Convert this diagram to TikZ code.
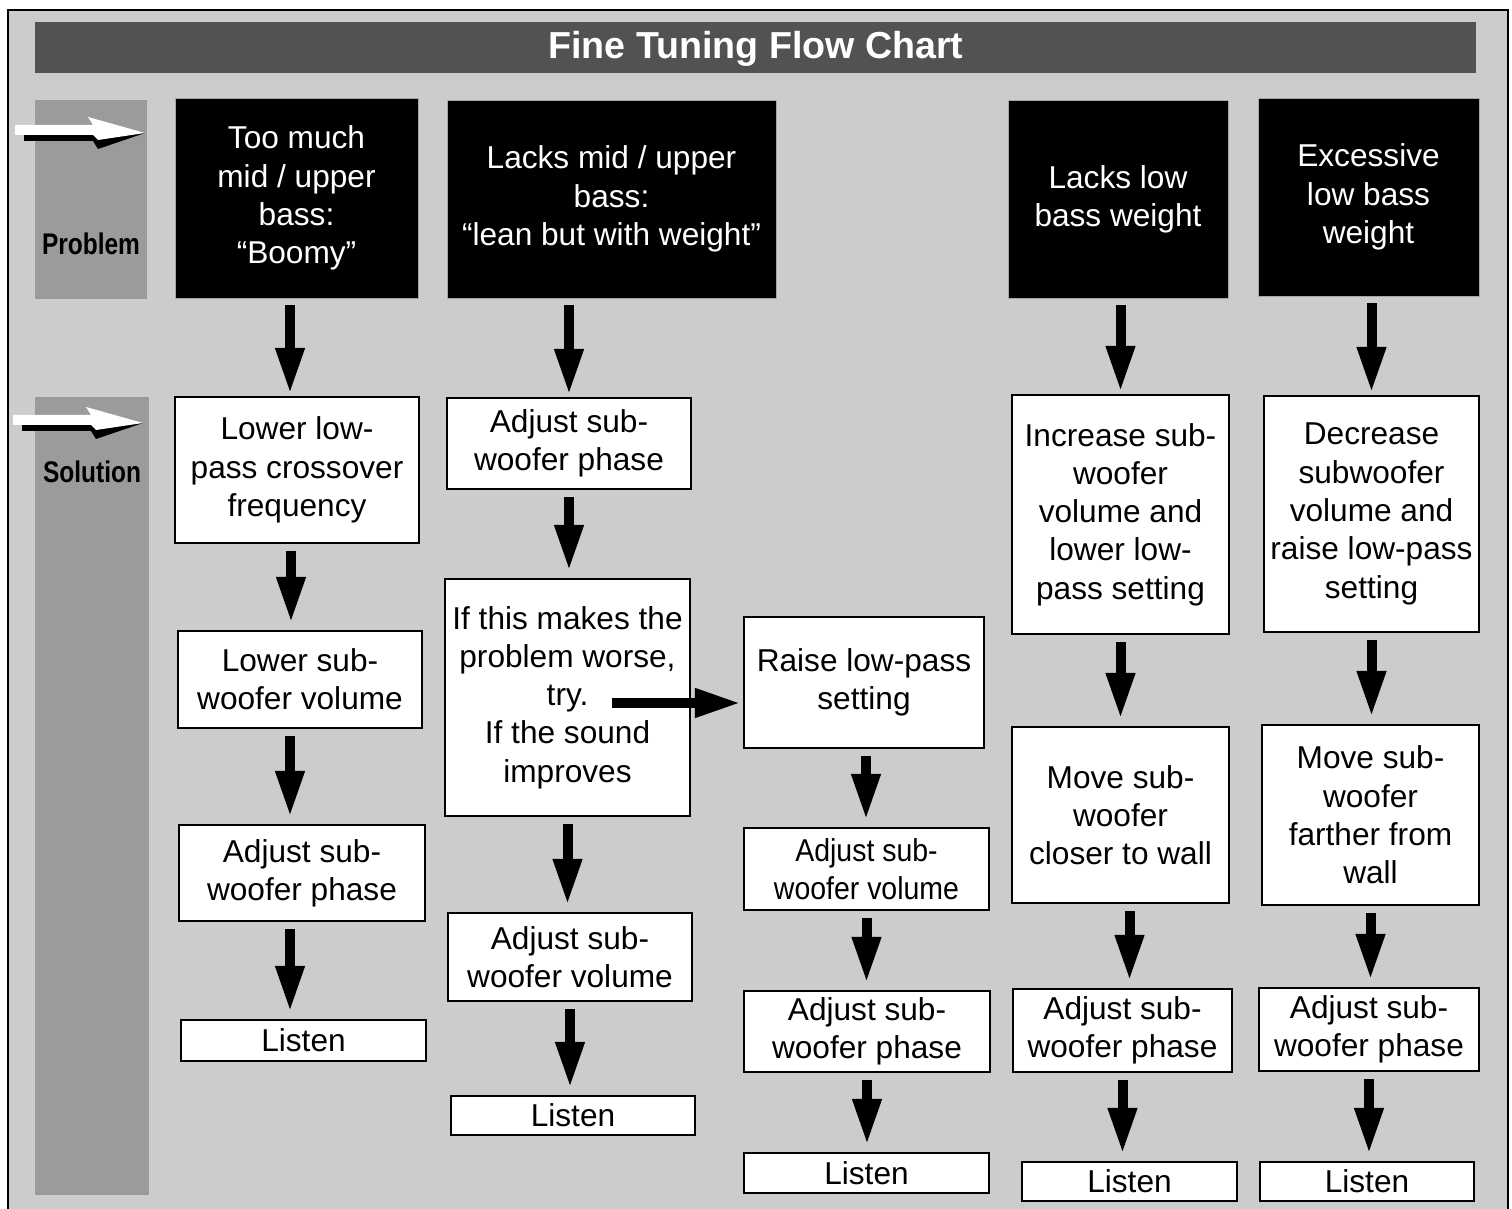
\documentclass[tikz,border=0pt]{standalone}
\usepackage{fontspec}
\setmainfont{Liberation Sans}
\newfontfamily\narrowsans{Liberation Sans}[FakeStretch=0.9]
\newfontfamily\labelsans{Liberation Sans}[FakeStretch=0.82]
\usetikzlibrary{arrows.meta}
\definecolor{pagegrey}{HTML}{CCCCCC}
\definecolor{bargrey}{HTML}{9B9B9B}
\definecolor{titlegrey}{HTML}{525252}
\newcommand\pxu{0.02cm}
\newcommand\sidearrow[1]{%
  \begin{scope}[shift={#1}]
    \fill[black] (-121,1) -- (-121,8) -- (-52,8) -- (-47,16) -- (0,0) -- cycle;
    \fill[white] (-130,-8) -- (-130,2) -- (-52,2) -- (-47,7) -- (0,0) -- (-57,-16) -- (-52,-8) -- cycle;
  \end{scope}}

\begin{document}
\begin{tikzpicture}[x=0.02cm, y=-0.02cm,
    every node/.style={font=\fontsize{18pt}{21.8pt}\selectfont, align=center, inner sep=0pt},
    box/.style 2 args={minimum width=#1*\pxu, minimum height=#2*\pxu},
    problem/.style={fill=black, draw=gray!70, line width=0.4pt, text=white},
    solution/.style={fill=white, draw=black, line width=1.3pt},
    flow/.style={-{Triangle[length=0.92cm, width=0.54cm]}, line width=0.2cm,
      shorten <=0.14cm, shorten >=0.14cm}]
    \useasboundingbox (0,0) rectangle (1512,1209);
    \fill[white] (0,0) rectangle (1512,1209);
    \clip (0,0) rectangle (1512,1209);
    \draw[fill=pagegrey, line width=1.4pt] (8,10) rectangle (1508,1240);
    \fill[titlegrey] (35,22) rectangle (1476,73);
    \node[anchor=base, text=white, font=\fontsize{21.4pt}{25pt}\selectfont\bfseries] (title) at (756,59) {Fine Tuning Flow Chart};
    \fill[bargrey] (35,100) rectangle (147,299);
    \fill[bargrey] (35,397) rectangle (149,1195);
    \node[anchor=base, font=\fontsize{17pt}{20pt}\labelsans\bfseries] (prob) at (91,255) {Problem};
    \node[anchor=base, font=\fontsize{17pt}{20pt}\labelsans\bfseries] (sol) at (92,483) {Solution};
    \sidearrow{(145,133)}
    \sidearrow{(143,423)}

    % problems
    \node[problem, box={243}{200}] (p1) at (296.5,198) {Too much\\mid / upper\\bass:\\“Boomy”};
    \node[problem, box={329}{198}] (p2) at (611.5,199) {Lacks mid / upper\\bass:\\“lean but with weight”};
    \node[problem, box={220}{198}] (p3) at (1118,199) {Lacks low\\bass weight};
    \node[problem, box={221}{198}] (p4) at (1368.5,197) {Excessive\\low bass\\weight};

    % solutions
    \node[solution, box={244}{146}] (s1a) at (297,470) {Lower low-\\pass crossover\\frequency};
    \node[solution, box={244}{97}] (s1b) at (300,679.5) {Lower sub-\\woofer volume};
    \node[solution, box={246}{96}] (s1c) at (302,873) {Adjust sub-\\woofer phase};
    \node[solution, box={245}{41}] (s1d) at (303.5,1040.5) {Listen};

    \node[solution, box={244}{91}] (s2a) at (569,443.5) {Adjust sub-\\woofer phase};
    \node[solution, box={245}{237}] (s2b) at (567.5,697.5) {If this makes the\\problem worse,\\try.\\If the sound\\improves};
    \node[solution, box={244}{88}] (s2c) at (570,957) {Adjust sub-\\woofer volume};
    \node[solution, box={244}{39}] (s2d) at (573,1115.5) {Listen};

    \node[solution, box={240}{131}] (s3a) at (864,682.5) {Raise low-pass\\setting};
    \node[solution, box={245}{82}, font=\fontsize{18pt}{21.8pt}\narrowsans] (s3b) at (866.5,869) {Adjust sub-\\woofer volume};
    \node[solution, box={246}{81}] (s3c) at (867,1031.5) {Adjust sub-\\woofer phase};
    \node[solution, box={245}{40}] (s3d) at (866.5,1173) {Listen};

    \node[solution, box={217}{239}] (s4a) at (1120.5,514.5) {Increase sub-\\woofer\\volume and\\lower low-\\pass setting};
    \node[solution, box={217}{176}] (s4b) at (1120.5,815) {Move sub-\\woofer\\closer to wall};
    \node[solution, box={219}{83}] (s4c) at (1122.5,1030.5) {Adjust sub-\\woofer phase};
    \node[solution, box={215}{39}] (s4d) at (1129.5,1181.5) {Listen};

    \node[solution, box={215}{236}] (s5a) at (1371.5,514) {Decrease\\subwoofer\\volume and\\raise low-pass\\setting};
    \node[solution, box={217}{180}] (s5b) at (1370.5,815) {Move sub-\\woofer\\farther from\\wall};
    \node[solution, box={220}{83}] (s5c) at (1369,1029.5) {Adjust sub-\\woofer phase};
    \node[solution, box={214}{39}] (s5d) at (1367,1181.5) {Listen};

    % arrows
    \draw[flow, shorten >=0.04cm] ([xshift=-7*\pxu]s1a.north |- p1.south) -- ([xshift=-7*\pxu]s1a.north);
    \draw[flow] ([xshift=-6*\pxu]s1a.south) -- ([xshift=-6*\pxu]s1a.south |- s1b.north);
    \draw[flow] ([xshift=-10*\pxu]s1b.south) -- ([xshift=-10*\pxu]s1b.south |- s1c.north);
    \draw[flow] ([xshift=-12*\pxu]s1c.south) -- ([xshift=-12*\pxu]s1c.south |- s1d.north);

    \draw[flow, shorten >=0.04cm] (p2.south -| s2a.north) -- (s2a.north);
    \draw[flow] (s2a.south) -- (s2a.south |- s2b.north);
    \draw[flow] (s2b.south) -- (s2b.south |- s2c.north);
    \draw[flow] (s2c.south) -- (s2c.south |- s2d.north);
    \coordinate (tryout) at (612,703);
    \draw[flow, shorten <=0pt, shorten >=0.04cm] (tryout) -- (tryout -| s3a.west);

    \draw[flow] ([xshift=2*\pxu]s3a.south) -- ([xshift=2*\pxu]s3a.south |- s3b.north);
    \draw[flow] (s3b.south) -- (s3b.south |- s3c.north);
    \draw[flow] (s3c.south) -- (s3c.south |- s3d.north);

    \draw[flow, shorten >=0.04cm] (p3.south -| s4a.north) -- (s4a.north);
    \draw[flow] (s4a.south) -- (s4a.south |- s4b.north);
    \draw[flow] ([xshift=9*\pxu]s4b.south) -- ([xshift=9*\pxu]s4b.south |- s4c.north);
    \draw[flow] (s4c.south) -- (s4c.south |- s4d.north);

    \draw[flow, shorten >=0.04cm] (p4.south -| s5a.north) -- (s5a.north);
    \draw[flow] (s5a.south) -- (s5a.south |- s5b.north);
    \draw[flow] (s5b.south) -- (s5b.south |- s5c.north);
    \draw[flow] (s5c.south) -- (s5c.south |- s5d.north);
\end{tikzpicture}
\end{document}
